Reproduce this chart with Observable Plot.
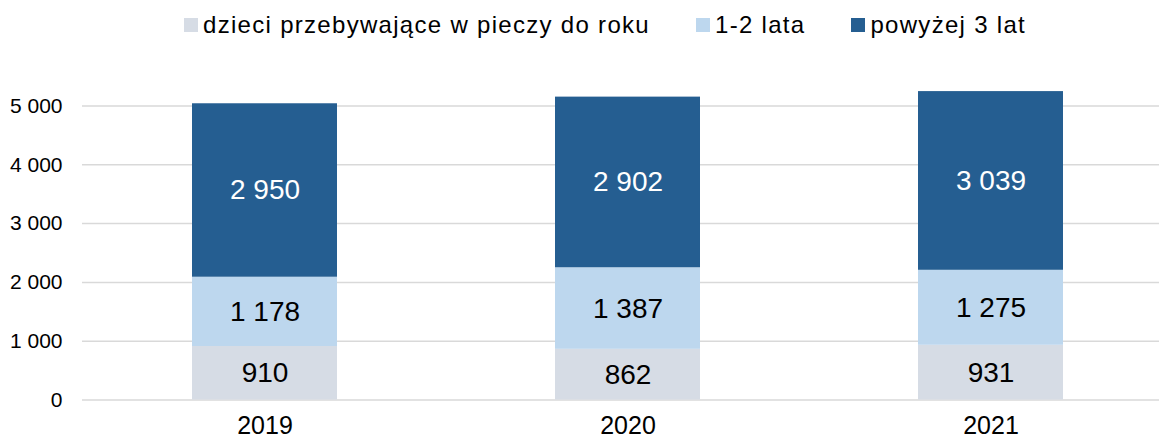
<!DOCTYPE html>
<html>
<head>
<meta charset="utf-8">
<script src="https://cdn.jsdelivr.net/npm/d3@7"></script>
<script src="https://cdn.jsdelivr.net/npm/@observablehq/plot@0.6"></script>
<style>
  body { margin: 0; background: #fff; font-family: "Liberation Sans", Arial, sans-serif; }
  #legend { height: 50px; display: flex; justify-content: flex-start; align-items: center; padding-left: 184px; box-sizing: border-box; font-size: 24px; letter-spacing: 1.3px; color: #000; }
  #legend .item { display: flex; align-items: center; margin-right: 46px; }
  #legend .sw { width: 14px; height: 14px; margin-right: 5px; }
</style>
</head>
<body>
<div id="legend"></div>
<div id="chart"></div>
<script>
const years = ["2019", "2020", "2021"];
const seriesNames = ["dzieci przebywające w pieczy do roku", "1-2 lata", "powyżej 3 lat"];
const doRoku = [910, 862, 931];
const lata12 = [1178, 1387, 1275];
const powyzej3 = [2950, 2902, 3039];
const yTicks = [0, 1000, 2000, 3000, 4000, 5000];
const colors = ["#D6DCE5", "#BDD7EE", "#255E91"];
const textColors = ["#000000", "#000000", "#ffffff"];

const seriesValues = [doRoku, lata12, powyzej3];
const rows = [];
years.forEach((y, i) => {
  seriesNames.forEach((s, j) => {
    rows.push({year: y, series: s, value: seriesValues[j][i], tc: textColors[j]});
  });
});

const fmt = d3.formatLocale({decimal: ",", thousands: " ", grouping: [3], currency: ["", ""]}).format(",d");

// legend
const lg = document.getElementById("legend");
seriesNames.forEach((s, j) => {
  const it = document.createElement("div");
  it.className = "item";
  const sw = document.createElement("div");
  sw.className = "sw";
  sw.style.background = colors[j];
  const tx = document.createElement("span");
  tx.textContent = s;
  it.appendChild(sw); it.appendChild(tx);
  lg.appendChild(it);
});

const chart = Plot.plot({
  width: 1159,
  height: 389,
  marginLeft: 82,
  marginRight: 0,
  marginTop: 55.5,
  marginBottom: 39.5,
  style: {fontFamily: "'Liberation Sans', Arial, sans-serif", background: "#fff", color: "#000"},
  x: {domain: years, range: [82.25, 1172.75], paddingInner: 0.6, paddingOuter: 0.3, label: null},
  y: {domain: [0, 5000], label: null},
  color: {domain: seriesNames, range: colors},
  marks: [
    Plot.ruleY(yTicks, {stroke: "#d9d9d9", strokeWidth: 1.5}),
    Plot.barY(rows, Plot.stackY({x: "year", y: "value", fill: "series", order: seriesNames})),
    Plot.text(rows, Plot.stackY({x: "year", y: "value", z: "series", order: seriesNames, text: d => fmt(d.value), fill: "tc", fontSize: 28})),
    Plot.axisY(yTicks, {tickSize: 0, tickPadding: 20, tickFormat: fmt, fontSize: 21, label: null}),
    Plot.axisX({tickSize: 0, tickPadding: 16, fontSize: 25, label: null})
  ]
});
document.getElementById("chart").appendChild(chart);
</script>
</body>
</html>
